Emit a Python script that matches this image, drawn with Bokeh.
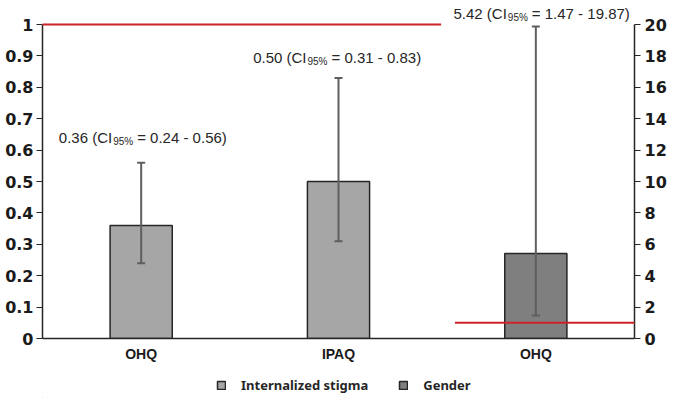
from bokeh.plotting import figure
from bokeh.layouts import column
from bokeh.models import (Range1d, LinearAxis, FixedTicker, Whisker, TeeHead,
                          ColumnDataSource, Label, NumeralTickFormatter,
                          Legend, LegendItem)
from bokeh.embed import file_html
from bokeh.resources import INLINE

# ---- data ----
categories = ["OHQ", "IPAQ", "OHQ"]
groups = ["Internalized stigma", "Internalized stigma", "Gender"]
odds_ratio = [0.36, 0.50, 5.42]
ci_low = [0.24, 0.31, 1.47]
ci_high = [0.56, 0.83, 19.87]
axis_side = ["left", "left", "right"]
null_value = 1.0
left_ticks = [0, 0.1, 0.2, 0.3, 0.4, 0.5, 0.6, 0.7, 0.8, 0.9, 1]
right_ticks = [0, 2, 4, 6, 8, 10, 12, 14, 16, 18, 20]

# ---- layout / style ----
xpos = [i + 0.5 for i in range(len(categories))]
fill_colors = {"Internalized stigma": "#a6a6a6", "Gender": "#7f7f7f"}
EDGE = "#262626"
ERR = "#5f5f5f"
RED = "#cc2229"
W = 669
BORDER_L = 42
frame_h, unit_h = 338, 314
main_h, legend_h = 364, 34
left_max, right_max = left_ticks[-1], right_ticks[-1]

p = figure(width=W, height=main_h, output_backend="svg", toolbar_location=None,
           x_range=Range1d(0, len(categories)),
           y_range=Range1d(0, left_max * frame_h / unit_h),
           min_border_left=BORDER_L, min_border_right=33, min_border_top=0,
           min_border_bottom=main_h - frame_h)
p.extra_y_ranges = {"right": Range1d(0, right_max * frame_h / unit_h)}
p.outline_line_color = None
p.xgrid.visible = False
p.ygrid.visible = False

# left axis
ly = p.left[0]
ly.ticker = FixedTicker(ticks=left_ticks)
ly.formatter = NumeralTickFormatter(format="0.[0]")
ly.bounds = (0, left_max)

# right axis
ry = LinearAxis(y_range_name="right", ticker=FixedTicker(ticks=right_ticks),
                bounds=(0, right_max))
p.add_layout(ry, "right")

for ax, standoff in ((ly, 3), (ry, 4)):
    ax.major_tick_out = 6
    ax.major_tick_in = 0
    ax.minor_tick_line_color = None
    ax.axis_line_width = 1.5
    ax.axis_line_color = EDGE
    ax.major_tick_line_color = EDGE
    ax.major_tick_line_width = 1.2
    ax.major_label_text_font = "DejaVu Sans"
    ax.major_label_text_font_style = "bold"
    ax.major_label_text_font_size = "16px"
    ax.major_label_text_color = "#1a1a1a"
    ax.major_label_standoff = standoff

# x axis
xa = p.below[0]
xa.ticker = FixedTicker(ticks=xpos)
xa.major_label_overrides = {x: c for x, c in zip(xpos, categories)}
xa.major_tick_line_color = None
xa.major_tick_out = 0
xa.major_tick_in = 0
xa.minor_tick_line_color = None
xa.axis_line_color = EDGE
xa.axis_line_width = 1.5
xa.major_label_text_font = "Liberation Sans"
xa.major_label_text_font_style = "bold"
xa.major_label_text_font_size = "14px"
xa.major_label_text_color = "#1a1a1a"
xa.major_label_standoff = 7

# bars and error bars per axis side
for side, rng in (("left", "default"), ("right", "right")):
    idx = [i for i, s in enumerate(axis_side) if s == side]
    src = ColumnDataSource(dict(
        x=[xpos[i] for i in idx],
        top=[odds_ratio[i] for i in idx],
        lower=[ci_low[i] for i in idx],
        upper=[ci_high[i] for i in idx],
    ))
    grp = groups[idx[0]]
    p.vbar(x="x", top="top", width=0.315, source=src, y_range_name=rng,
           fill_color=fill_colors[grp], line_color=EDGE, line_width=1.5)
    w = Whisker(source=src, base="x", lower="lower", upper="upper",
                dimension="height", y_range_name=rng, level="annotation",
                line_color=ERR, line_width=2,
                upper_head=TeeHead(size=8, line_color=ERR, line_width=2),
                lower_head=TeeHead(size=8, line_color=ERR, line_width=2))
    p.add_layout(w)

# null reference lines (OR = 1) on each scale
p.segment(x0=[0.0], x1=[2.02], y0=[null_value], y1=[null_value],
          line_color=RED, line_width=2, level="overlay")
p.segment(x0=[2.09], x1=[float(len(categories))], y0=[null_value],
          y1=[null_value], line_color=RED, line_width=2, y_range_name="right",
          level="overlay")

# annotations with subscript
anchor_dx = [-29, -32, -29]
base_dy = [25, 20, 13]
for i in range(len(categories)):
    rng = "default" if axis_side[i] == "left" else "right"
    common = dict(x=xpos[i], y=ci_high[i], y_range_name=rng,
                  text_font="Liberation Sans", text_color="#262626",
                  text_baseline="alphabetic")
    p.add_layout(Label(text=f"{odds_ratio[i]:.2f} (CI", text_align="right",
                       x_offset=anchor_dx[i], y_offset=base_dy[i],
                       text_font_size="15px", **common))
    p.add_layout(Label(text="95%", text_align="left",
                       x_offset=anchor_dx[i] + 1, y_offset=base_dy[i] - 4,
                       text_font_size="10px", **common))
    p.add_layout(Label(text=f"= {ci_low[i]:.2f} - {ci_high[i]:.2f})",
                       text_align="left",
                       x_offset=anchor_dx[i] + 25, y_offset=base_dy[i],
                       text_font_size="15px", **common))

# legend strip below the chart (frame aligned with the main chart)
lf = figure(width=W, height=legend_h, output_backend="svg",
            toolbar_location=None, x_range=Range1d(0, 1), y_range=Range1d(0, 1),
            min_border=0)
lf.axis.visible = False
lf.grid.visible = False
lf.outline_line_color = None
items = []
for grp in dict.fromkeys(groups):
    # placeholder outside the visible range: only used for the legend swatch
    r = lf.vbar(x=[-5.0], top=[0.0], width=0.1, fill_color=fill_colors[grp],
                line_color=EDGE, line_width=1.5)
    items.append(LegendItem(label=grp, renderers=[r], index=0))
lg = Legend(items=items, orientation="horizontal",
            location=(216 - BORDER_L, 4),
            background_fill_alpha=0, border_line_color=None, padding=0,
            margin=0, glyph_width=10, glyph_height=10, label_standoff=15,
            spacing=30, label_text_font="Noto Sans",
            label_text_font_style="bold", label_text_font_size="13px",
            label_text_color="#262626")
lf.add_layout(lg)

layout = column(p, lf, spacing=0)
open("out.html", "w").write(file_html(layout, INLINE))
